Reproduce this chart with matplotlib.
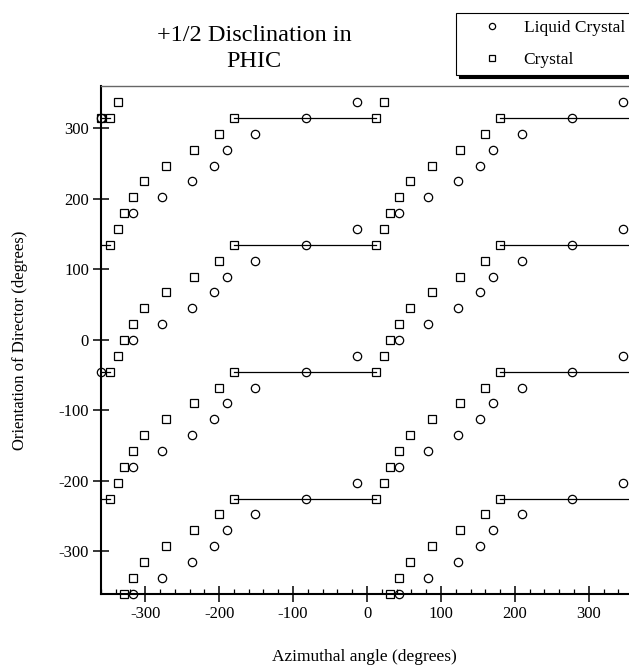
import matplotlib
matplotlib.use("Agg")
import matplotlib.pyplot as plt
from matplotlib.lines import Line2D
from matplotlib.ticker import MultipleLocator

plt.rcParams['font.family'] = ['Liberation Serif', 'DejaVu Serif']
plt.rcParams['axes.unicode_minus'] = False

# one period of each branch (azimuth, director angle in degrees)
lc_azimuth = [-13.5, 43, 83, 123, 152.5, 171, 209, 277]
lc_director = [157.5, 180, 202.5, 225, 247.5, 270, 292.5, 315]
cr_azimuth = [12, 23.5, 31, 43.5, 58, 87.5, 125.5, 160, 180]
cr_director = [135, 157.5, 180, 202.5, 225, 247.5, 270, 292.5, 315]
# flat part of the crystal branch, drawn as a line
cr_flat_azimuth = [180, 372]
cr_flat_director = [315, 315]
# single points sitting on the left edge
lc_edge_azimuth = [-360, -360]
lc_edge_director = [315, -45]
cr_edge_azimuth = [-360]
cr_edge_director = [315]

# equivalent branches: azimuth repeats every 360, director every 180
azimuth_shifts = [-720, -360, 0, 360]
director_shifts = [-540, -360, -180, 0, 180]


def branches(xs, ys):
    px, py = [], []
    for dx in azimuth_shifts:
        for dy in director_shifts:
            for x, y in zip(xs, ys):
                if -360 <= x + dx < 360 and -360 <= y + dy < 360:
                    px.append(x + dx)
                    py.append(y + dy)
    return px, py


fig = plt.figure(figsize=(6.29, 6.68), dpi=100)
ax = fig.add_axes([100.8 / 629, 1 - 593.8 / 668, (629 - 100.8) / 629, (593.8 - 86.2) / 668])

# flat stretches
for dx in azimuth_shifts:
    for dy in director_shifts:
        ax.plot([x + dx for x in cr_flat_azimuth], [y + dy for y in cr_flat_director],
                color='k', lw=0.9)

mk = dict(ls='none', ms=6, mfc='none', mec='k', mew=0.9, clip_on=False)
lx, ly = branches(lc_azimuth, lc_director)
cx, cy = branches(cr_azimuth, cr_director)
ax.plot(lx + lc_edge_azimuth, ly + lc_edge_director, marker='o', **mk)
ax.plot(cx + cr_edge_azimuth, cy + cr_edge_director, marker='s', **mk)

ax.set_xlim(-360, 354.3)
ax.set_ylim(-360, 360)
ax.set_xticks(range(-300, 301, 100))
ax.set_yticks(range(-300, 301, 100))
ax.xaxis.set_minor_locator(MultipleLocator(20))

ax.tick_params(which='major', direction='inout', length=11, width=1.1, labelsize=12, pad=3,
               top=False, right=False)
ax.tick_params(axis='x', which='minor', direction='in', length=3.5, width=0.9, top=False)
ax.tick_params(axis='y', which='minor', left=False, right=False)

ax.spines['right'].set_visible(False)
ax.spines['top'].set_color('#666666')
ax.spines['top'].set_linewidth(1.0)
ax.spines['left'].set_linewidth(1.5)
ax.spines['bottom'].set_linewidth(1.5)

fig.text(364 / 629, 1 - 661 / 668, 'Azimuthal angle (degrees)', ha='center', va='baseline',
         fontsize=12.5)
fig.text(20 / 629, 1 - 340 / 668, 'Orientation of Director (degrees)', rotation=90,
         ha='center', va='center', fontsize=12)

# title
fig.text(254 / 629, 1 - 40.7 / 668, '+1/2 Disclination in', ha='center', va='baseline',
         fontsize=17.5)
fig.text(254 / 629, 1 - 67 / 668, 'PHIC', ha='center', va='baseline', fontsize=17.5)

handles = [
    Line2D([], [], marker='o', ls='none', ms=4.5, mfc='none', mec='k', mew=0.9,
           label='Liquid Crystal'),
    Line2D([], [], marker='s', ls='none', ms=4.5, mfc='none', mec='k', mew=0.9,
           label='Crystal'),
]
leg = fig.legend(handles=handles, loc='upper left', bbox_to_anchor=(456 / 629, 1 - 13.3 / 668),
                 borderaxespad=0, fontsize=12.5, fancybox=False, framealpha=1,
                 edgecolor='k', shadow={'color': 'k', 'alpha': 1},
                 handlelength=3.4, handletextpad=0.1, borderpad=0.4, labelspacing=0.9)
leg.get_frame().set_linewidth(0.8)

fig.savefig('out.png', dpi=100)
